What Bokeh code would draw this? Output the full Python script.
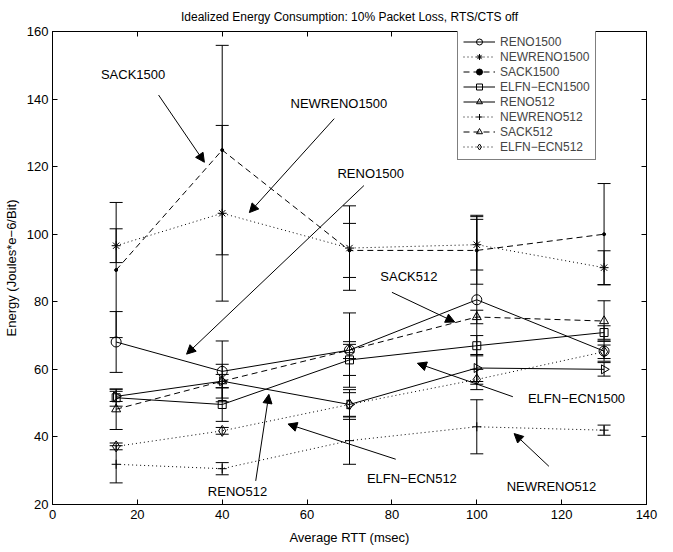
import numpy as np
from bokeh.plotting import figure
from bokeh.models import (ColumnDataSource, Whisker, TeeHead, Arrow, NormalHead, Label,
                          LinearAxis, FixedTicker, Range1d, Legend, LegendItem)
from bokeh.embed import file_html
from bokeh.resources import INLINE

# ---------------- data ----------------
rtt = [15, 40, 70, 100, 130]

series_names = ["RENO1500", "NEWRENO1500", "SACK1500", "ELFN\u2212ECN1500",
                "RENO512", "NEWRENO512", "SACK512", "ELFN\u2212ECN512"]

reno1500 = [68.1, 59.4, 65.7, 80.6, 65.4]
newreno1500 = [96.6, 106.2, 95.9, 96.9, 90.1]
sack1500 = [89.4, 124.9, 95.2, 95.2, 100.0]
elfn1500 = [51.6, 49.6, 62.8, 67.0, 70.9]
reno512 = [52.0, 56.5, 49.6, 60.4, 60.0]
newreno512 = [31.9, 30.6, 38.9, 43.0, 42.0]
sack512 = [48.2, 56.5, 65.7, 75.5, 74.3]
elfn512 = [37.2, 41.8, 49.6, 57.0, 65.2]

reno1500_err = [9, 9, 11, 25, 3]
newreno1500_err = [5, 26, 12.5, 7.5, 5]
sack1500_err = [20, 31, 8, 10, 15]
elfn1500_err = [2.5, 5, 4.6, 3, 2]
reno512_err = [1.5, 5, 3.5, 4, 2]
newreno512_err = [5.5, 1.8, 7, 8, 1.5]
sack512_err = [6, 2, 2.5, 2, 6]
elfn512_err = [1, 1, 4.4, 3, 2]

x_ticks = [0, 20, 40, 60, 80, 100, 120, 140]
y_ticks = [20, 40, 60, 80, 100, 120, 140, 160]

# annotation labels: text, label position, arrow start, arrow end (data units)
ann_text = ["SACK1500", "NEWRENO1500", "RENO1500", "SACK512",
            "ELFN\u2212ECN1500", "ELFN\u2212ECN512", "RENO512", "NEWRENO512"]
ann_x = [19.0, 67.5, 75.0, 84.0, 123.5, 84.7, 43.6, 117.6]
ann_y = [147.3, 138.6, 117.9, 87.4, 51.4, 27.6, 23.8, 25.3]
arr_x0 = [25.0, 66.4, 73.4, 80.0, 108.5, 80.9, 47.9, 117.0]
arr_y0 = [141.2, 134.2, 114.4, 82.8, 51.9, 33.4, 27.0, 31.3]
arr_x1 = [35.8, 46.4, 31.6, 94.8, 86.0, 55.5, 51.0, 108.8]
arr_y1 = [121.3, 106.4, 64.5, 74.0, 61.8, 43.8, 52.6, 41.0]

# ---------------- styling ----------------
FONT = "Liberation Sans"
values = [reno1500, newreno1500, sack1500, elfn1500, reno512, newreno512, sack512, elfn512]
errs = [reno1500_err, newreno1500_err, sack1500_err, elfn1500_err,
        reno512_err, newreno512_err, sack512_err, elfn512_err]
dashes = ["solid", "1 3", "6 4", "solid", "solid", "1 3", "6 4", "1 3"]
markers = ["circle", "asterisk", "dot", "square", "triangle", "cross", "triangle", "diamond"]
angles = [0, 0, 0, 0, -np.pi / 2, 0, 0, 0]
msizes = [10, 9, 9, 8, 9, 9, 9, 11]

p = figure(width=673, height=552, output_backend="svg", toolbar_location=None,
           x_range=Range1d(0, 140), y_range=Range1d(20, 160),
           min_border_left=52, min_border_right=27, min_border_top=29, min_border_bottom=48)
p.background_fill_color = "white"
p.border_fill_color = "white"
p.grid.visible = False
p.outline_line_color = "black"
p.outline_line_width = 1

for ax in (p.xaxis[0], p.yaxis[0]):
    ax.major_tick_in = 5
    ax.major_tick_out = 0
    ax.minor_tick_line_color = None
    ax.major_label_text_font = FONT
    ax.major_label_text_font_size = "13px"
    ax.major_label_text_color = "black"
    ax.axis_label_text_font = FONT
    ax.axis_label_text_font_size = "13px"
    ax.axis_label_text_font_style = "normal"
    ax.axis_label_text_color = "black"
    ax.axis_line_color = "black"
    ax.major_tick_line_color = "black"

p.xaxis[0].major_label_standoff = 5
p.yaxis[0].major_label_standoff = 4
p.xaxis[0].ticker = FixedTicker(ticks=x_ticks)
p.yaxis[0].ticker = FixedTicker(ticks=y_ticks)
p.xaxis[0].axis_label = "Average RTT (msec)"
p.yaxis[0].axis_label = "Energy (Joules*e\u22126/Bit)"
p.xaxis[0].axis_label_standoff = 8
p.yaxis[0].axis_label_standoff = 5

for loc, tk in (("right", y_ticks), ("above", x_ticks)):
    ax = LinearAxis(ticker=FixedTicker(ticks=tk), major_tick_in=5, major_tick_out=0,
                    minor_tick_line_color=None, major_label_text_font_size="0px",
                    major_label_standoff=0, axis_line_color="black")
    p.add_layout(ax, loc)

p.title.text = "Idealized Energy Consumption: 10% Packet Loss, RTS/CTS off"
p.title.align = "center"
p.title.text_font = FONT
p.title.text_font_size = "12px"
p.title.text_font_style = "normal"
p.title.text_color = "black"
p.title.standoff = 15

items = []
for name, ys, er, dash, mk, ang, ms in zip(series_names, values, errs, dashes, markers, angles, msizes):
    src = ColumnDataSource(dict(x=rtt, y=ys,
                                upper=[a + b for a, b in zip(ys, er)],
                                lower=[a - b for a, b in zip(ys, er)]))
    wh = Whisker(base="x", upper="upper", lower="lower", source=src, dimension="height",
                 line_color="black", line_width=1,
                 upper_head=TeeHead(size=13, line_color="black", line_width=1),
                 lower_head=TeeHead(size=13, line_color="black", line_width=1))
    p.add_layout(wh)
    ln = p.line("x", "y", source=src, line_color="black", line_width=1, line_dash=dash)
    if mk == "dot":
        sc = p.scatter("x", "y", source=src, marker="circle", size=3, fill_color="black",
                       line_color="black")
    else:
        sc = p.scatter("x", "y", source=src, marker=mk, size=ms, angle=ang,
                       fill_color=None, line_color="black", line_width=1)
    items.append(LegendItem(label=name, renderers=[ln, sc]))

for t, lx, ly, x0, y0, x1, y1 in zip(ann_text, ann_x, ann_y, arr_x0, arr_y0, arr_x1, arr_y1):
    p.add_layout(Label(x=lx, y=ly, text=t, text_align="center", text_baseline="middle",
                       text_font=FONT, text_font_size="13px", text_color="black"))
    p.add_layout(Arrow(x_start=x0, y_start=y0, x_end=x1, y_end=y1, line_color="black",
                       line_width=1,
                       end=NormalHead(size=9, fill_color="black", line_color="black")))

legend = Legend(items=items, label_text_font=FONT,
                label_text_font_size="12px", glyph_width=32, glyph_height=15,
                label_height=15, spacing=0, padding=5, margin=0,
                border_line_color="black", border_line_width=1,
                background_fill_alpha=1.0, label_standoff=5)
legend.location = (405, 344)
p.add_layout(legend)

open("out.html", "w").write(file_html(p, INLINE))
